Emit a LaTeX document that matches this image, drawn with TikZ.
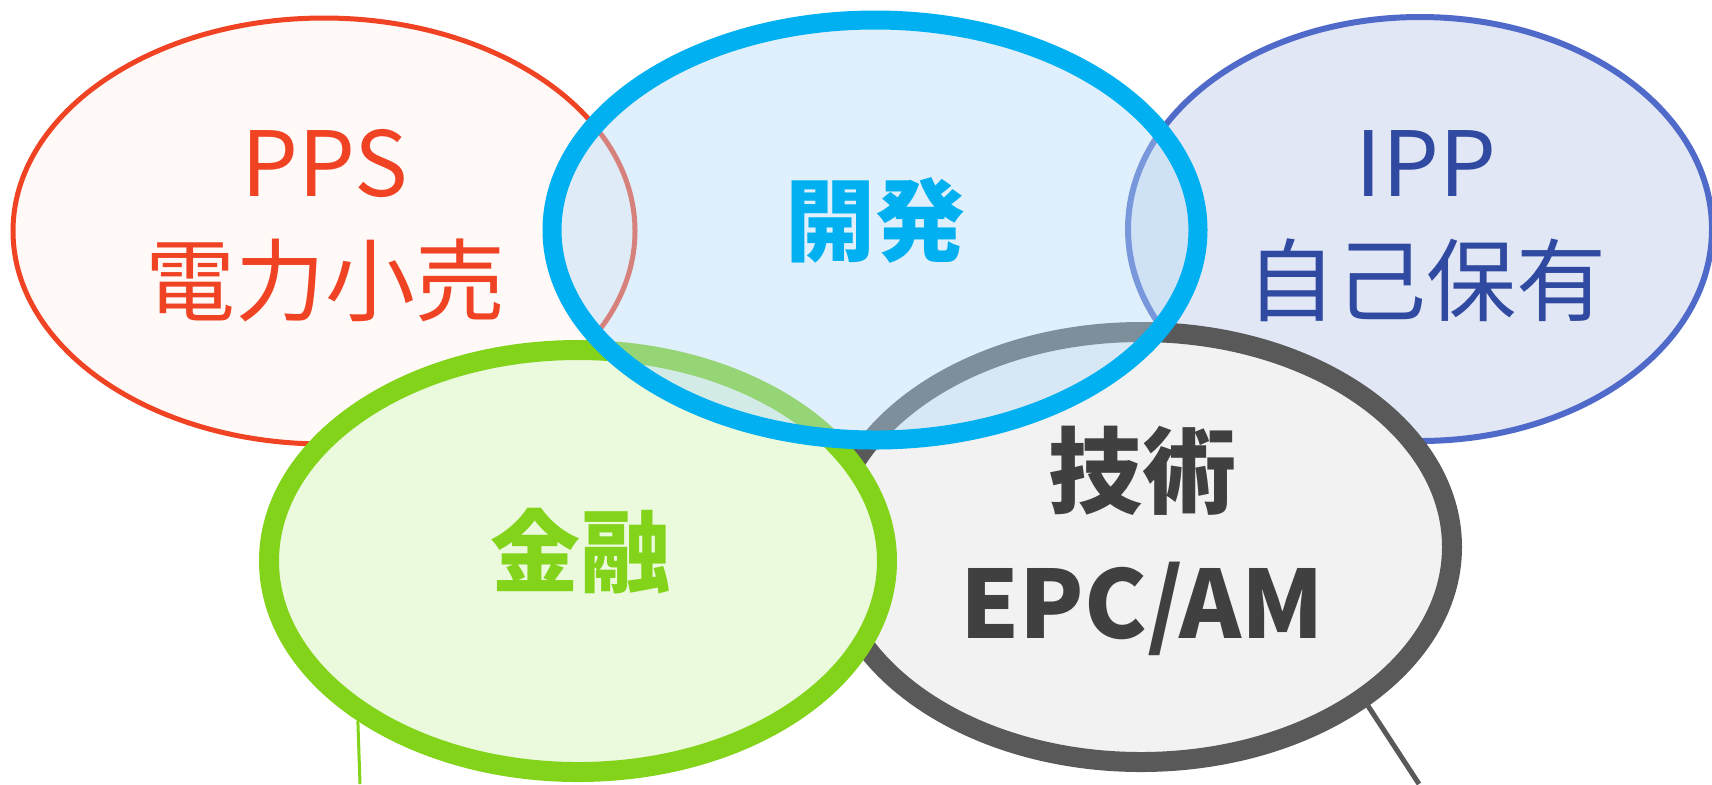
\documentclass[tikz,border=0pt]{standalone}
\usepackage{fontspec}
\setmainfont{Noto Sans CJK JP}
\usetikzlibrary{shapes.geometric}
\usetikzlibrary{backgrounds}

\definecolor{ppsred}{RGB}{240,67,36}
\definecolor{ppsfill}{RGB}{255,249,247}
\definecolor{devblue}{RGB}{0,176,240}
\definecolor{devfill}{RGB}{179,217,245}
\definecolor{ippline}{RGB}{80,106,202}
\definecolor{ippfill}{RGB}{226,231,246}
\definecolor{ipptext}{RGB}{47,74,160}
\definecolor{fingreen}{RGB}{130,211,26}
\definecolor{finfill}{RGB}{235,249,221}
\definecolor{techgray}{RGB}{89,89,89}
\definecolor{techfill}{RGB}{242,242,242}
\definecolor{techtext}{RGB}{64,64,64}

\begin{document}
\begin{tikzpicture}[x=0.5pt, y=-0.5pt,
    bubble/.style={ellipse, inner sep=0pt, minimum width=#1},
    thin label/.style={align=center, font=\fontsize{45}{59}\selectfont},
    bold label/.style={align=center, font=\fontsize{45}{65}\selectfont\bfseries}]
    \useasboundingbox (0,0) rectangle (1712,784);

    % PPS
    \node[bubble=311pt, minimum height=213pt, draw=ppsred, fill=ppsfill, line width=2.5pt] (pps) at (324,231) {};
    \node[thin label, text=ppsred] (ppstext) at (325,226) {PPS\\電力小売};

    % IPP
    \node[bubble=292pt, minimum height=212pt, draw=ippline, fill=ippfill, line width=3pt] (ipp) at (1420,229) {};
    \node[thin label, text=ipptext] (ipptext) at (1426,226) {IPP\\自己保有};

    % Technology
    \node[bubble=311pt, minimum height=215pt, draw=techgray, fill=techfill, line width=10pt] (tech) at (1141,547) {};
    \node[bold label, text=techtext, font=\fontsize{47}{66}\selectfont\bfseries] (techtext) at (1142,541) {技術\\EPC/AM};

    % Finance
    \node[bubble=309pt, minimum height=211pt, draw=fingreen, fill=finfill, line width=10pt] (fin) at (578,561) {};
    \node[bold label, text=fingreen] (fintext) at (580,551) {金融};

    % Development (on top, see-through)
    \node[bubble=323pt, minimum height=210pt, draw=devblue, fill=devfill, fill opacity=0.42, line width=9.5pt] (dev) at (875,230) {};
    \node[bold label, text=devblue] (devtext) at (875,220) {開発};

    % Lines leaving the picture
    \coordinate (finend) at (360,784);
    \coordinate (techend) at (1419,784);
    \begin{scope}[on background layer]
        \draw[fingreen, line width=1.5pt] (fin.-144) -- (finend);
        \draw[techgray, line width=2.5pt] (tech.-35.5) -- (techend);
    \end{scope}

\end{tikzpicture}
\end{document}
